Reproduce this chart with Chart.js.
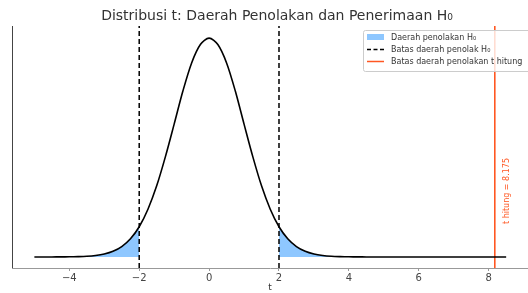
<!DOCTYPE html>
<html><head><meta charset="utf-8">
<script src="https://cdn.jsdelivr.net/npm/chart.js@4"></script>
<style>html,body{margin:0;padding:0;background:#fff}#wrap{width:528px;height:293px}</style>
</head><body><div id="wrap"><canvas id="c" width="528" height="293"></canvas></div>
<script>
// t values (x) and density values
const tValues = [-5,-4.75,-4.5,-4.25,-4,-3.75,-3.5,-3.25,-3,-2.75,-2.5,-2.25,-2,-1.75,-1.5,-1.25,-1,-0.75,-0.5,-0.25,0,0.25,0.5,0.75,1,1.25,1.5,1.75,2,2.25,2.5,2.75,3,3.25,3.5,3.75,4,4.25,4.5,4.75,5,5.25,5.5,5.75,6,6.25,6.5,6.75,7,7.25,7.5,7.75,8,8.25,8.5];
const density = [0.00002,0.00004,0.00007,0.00015,0.0003,0.0006,0.0012,0.0026,0.0053,0.0102,0.0188,0.033,0.0548,0.0866,0.129,0.182,0.241,0.301,0.352,0.3853,0.397,0.3853,0.352,0.301,0.241,0.182,0.129,0.0866,0.0548,0.033,0.0188,0.0102,0.0053,0.0026,0.0012,0.0006,0.0003,0.00015,0.00007,0.00004,0.00002,0.00001,0.00001,0.00001,0.00001,0,0,0,0,0,0,0,0,0,0];
const tCritical = [-2, 2];
const tHitung = 8.175;
const xTicks = [-4,-2,0,2,4,6,8];
const titleText = 'Distribusi t: Daerah Penolakan dan Penerimaan H\u2080';
const legendLabels = ['Daerah penolakan H\u2080','Batas daerah penolak H\u2080','Batas daerah penolakan t hitung'];
const hitungLabel = 't hitung = ' + tHitung;

const curve = tValues.map((t,i)=>({x:t,y:density[i]}));
const leftTail = curve.filter(p=>p.x<=tCritical[0]);
const rightTail = curve.filter(p=>p.x>=tCritical[1]);
const YMIN=-0.02, YMAX=0.419;
const FILL='rgba(30,144,255,0.5)';
const RED='#ff5722';
const vline=(x)=>[{x:x,y:YMIN},{x:x,y:YMAX}];

const FONT='"DejaVu Sans", sans-serif';
const deco = {
  id:'deco',
  afterDatasetsDraw(chart){
    const ctx=chart.ctx, a=chart.chartArea, xs=chart.scales.x;
    ctx.save();
    // left spine
    ctx.strokeStyle='#444'; ctx.lineWidth=1;
    ctx.beginPath(); ctx.moveTo(a.left+0.5,a.top); ctx.lineTo(a.left+0.5,a.bottom); ctx.stroke();
    // title
    ctx.fillStyle='#333'; ctx.font='14px '+FONT; ctx.textAlign='center'; ctx.textBaseline='middle';
    ctx.fillText(titleText,277,16);
    // rotated label
    ctx.save();
    ctx.translate(xs.getPixelForValue(tHitung)+12, 191);
    ctx.rotate(-Math.PI/2);
    ctx.fillStyle=RED; ctx.font='8px '+FONT; ctx.textAlign='center'; ctx.textBaseline='middle';
    ctx.fillText(hitungLabel,0,0);
    ctx.restore();
    // legend
    const lx=363, ly=30, lw=175, lh=41;
    ctx.fillStyle='rgba(255,255,255,0.8)';
    ctx.strokeStyle='#ccc'; ctx.lineWidth=1;
    ctx.beginPath(); ctx.roundRect(lx+0.5,ly+0.5,lw,lh,2); ctx.fill(); ctx.stroke();
    const rows=[37,49.5,61.5];
    ctx.font='8px '+FONT; ctx.textAlign='left'; ctx.textBaseline='middle';
    ctx.fillStyle=FILL; ctx.fillRect(367,rows[0]-3,17,6);
    ctx.strokeStyle='#000'; ctx.lineWidth=1.5; ctx.setLineDash([4,2.5]);
    ctx.beginPath(); ctx.moveTo(367,rows[1]); ctx.lineTo(384,rows[1]); ctx.stroke();
    ctx.setLineDash([]);
    ctx.strokeStyle=RED; ctx.lineWidth=1.5;
    ctx.beginPath(); ctx.moveTo(367,rows[2]); ctx.lineTo(384,rows[2]); ctx.stroke();
    ctx.fillStyle='#333';
    legendLabels.forEach((l,i)=>ctx.fillText(l,391,rows[i]+0.5));
    ctx.restore();
  }
};

new Chart(document.getElementById('c'),{
  type:'scatter',
  data:{datasets:[
    {data:leftTail,showLine:true,fill:'origin',backgroundColor:FILL,borderWidth:0,pointRadius:0,tension:0.3,order:5},
    {data:rightTail,showLine:true,fill:'origin',backgroundColor:FILL,borderWidth:0,pointRadius:0,tension:0.3,order:5},
    {data:curve,showLine:true,borderColor:'#000',borderWidth:1.6,pointRadius:0,tension:0.3,fill:false,order:1},
    {data:vline(tCritical[0]),showLine:true,borderColor:'#000',borderWidth:1.5,borderDash:[5,3],pointRadius:0,order:2},
    {data:vline(tCritical[1]),showLine:true,borderColor:'#000',borderWidth:1.5,borderDash:[5,3],pointRadius:0,order:2},
    {data:vline(tHitung),showLine:true,borderColor:RED,borderWidth:1.6,pointRadius:0,order:3}
  ]},
  options:{
    responsive:false,animation:false,
    layout:{padding:{left:12,top:26,right:0,bottom:0}},
    plugins:{legend:{display:false},tooltip:{enabled:false},title:{display:false}},
    scales:{
      x:{type:'linear',min:-5.64,max:9.125,
        afterBuildTicks:(ax)=>{ax.ticks=xTicks.map(v=>({value:v}));},
        afterFit:(ax)=>{ax.height=25;},
        grid:{display:true,drawOnChartArea:false,drawTicks:true,tickLength:3,color:'#999'},
        border:{display:true,color:'#999',width:1},
        ticks:{color:'#444',font:{family:FONT,size:10},padding:1,
          callback:(v)=>v<0?'\u2212'+Math.abs(v):String(v)},
        title:{display:true,text:'t',color:'#333',font:{family:FONT,size:9},padding:{top:0,bottom:0}}
      },
      y:{display:false,min:YMIN,max:YMAX}
    }
  },
  plugins:[deco]
});
</script></body></html>
